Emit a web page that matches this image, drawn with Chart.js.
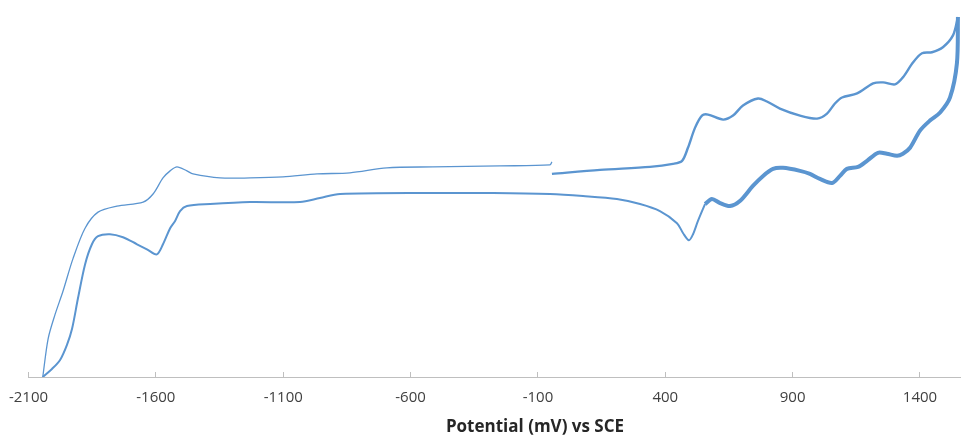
<!DOCTYPE html>
<html>
<head>
<meta charset="utf-8">
<script src="https://cdn.jsdelivr.net/npm/chart.js@4.4.0/dist/chart.umd.min.js"></script>
<style>
    html, body { margin: 0; padding: 0; background: #ffffff; }
    #grafico { display: block; }
</style>
</head>
<body>
<canvas id="grafico" width="961" height="438"></canvas>
<script>
// potencial (mV vs SCE) y corriente (unidades relativas) leidos del voltamograma
// barrido anodico, rama superior derecha (-45 mV -> 1549 mV)
const potencialAnodico = [-45, 144, 340, 430, 466, 489, 517, 544, 568, 627, 666, 705, 764, 799, 850, 929, 996, 1035, 1066, 1094, 1153, 1216, 1255, 1302, 1333, 1373, 1408, 1447, 1490, 1530, 1549];
const corrienteAnodica = [202, 206, 209, 212, 215, 228, 248, 260, 261, 256, 260, 270, 277, 274, 267, 260, 257, 262, 272, 278, 282, 292, 293, 291, 298, 313, 322, 323, 328, 340, 358];

// regreso catodico, rama inferior derecha (1549 mV -> 556 mV)
const potencialRegreso = [1549, 1545, 1518, 1479, 1439, 1400, 1361, 1333, 1310, 1270, 1235, 1192, 1157, 1113, 1086, 1055, 1007, 968, 929, 862, 823, 784, 744, 693, 654, 615, 583, 556];
const corrienteRegreso = [358, 312, 278, 263, 255, 245, 228, 222, 220, 222, 223, 215, 209, 207, 200, 193, 197, 202, 205, 208, 207, 200, 190, 175, 170, 173, 177, 172];

// rama inferior izquierda (556 mV -> -2044 mV)
const potencialCatodico = [556, 528, 509, 493, 470, 446, 379, 301, 210, 77, -53, -276, -512, -877, -956, -1034, -1230, -1387, -1478, -1505, -1525, -1544, -1572, -1596, -1635, -1674, -1729, -1780, -1827, -1851, -1878, -1906, -1929, -1949, -1976, -2008, -2044];
const corrienteCatodica = [172, 155, 142, 136, 143, 153, 165, 172, 177, 180, 182, 183, 183, 182, 178, 174, 174, 172, 170, 165, 155, 148, 132, 122, 127, 132, 139, 142, 140, 132, 112, 78, 48, 32, 17, 8, 0];

// rama superior izquierda (-2044 mV -> -45 mV)
const potencialFinal = [-2044, -2023, -1996, -1965, -1925, -1878, -1827, -1753, -1650, -1611, -1572, -1544, -1517, -1478, -1454, -1348, -1230, -1101, -967, -838, -693, -512, -249, -53, -45];
const corrienteFinal = [0, 38, 62, 85, 118, 148, 164, 170, 174, 182, 198, 205, 209, 205, 202, 198, 198, 199, 202, 203, 208, 209, 210, 211, 214];

const marcasX = [-2100, -1600, -1100, -600, -100, 400, 900, 1400];

const tituloX = "Potential (mV) vs SCE";

const azul = "#5b95d0";

const armarPuntos = (xs, ys) => xs.map((x, i) => ({ x: x, y: ys[i] }));

const crearSerie = (xs, ys, grosor) => ({
    data: armarPuntos(xs, ys),
    showLine: true,
    borderColor: azul,
    backgroundColor: azul,
    borderWidth: grosor,
    pointRadius: 0,
    tension: 0.3,
});

// el titulo del eje no va centrado en el area del grafico (la figura original esta recortada)
const tituloEje = {
    id: "tituloEje",
    afterDraw: (chart) => {
        const ctx = chart.ctx;
        ctx.save();
        ctx.font = "bold 17px 'Open Sans', 'DejaVu Sans', sans-serif";
        ctx.fillStyle = "#262626";
        ctx.textAlign = "center";
        ctx.textBaseline = "middle";
        ctx.fillText(tituloX, 535, 427);
        ctx.restore();
    },
};

Chart.defaults.font.family = "'Open Sans', 'DejaVu Sans', sans-serif";

new Chart(document.getElementById("grafico").getContext("2d"), {
    type: "scatter",
    data: {
        datasets: [
            crearSerie(potencialFinal, corrienteFinal, 1.3),
            crearSerie(potencialCatodico, corrienteCatodica, 2),
            crearSerie(potencialAnodico, corrienteAnodica, 2.4),
            crearSerie(potencialRegreso, corrienteRegreso, 4),
        ],
    },
    options: {
        responsive: false,
        maintainAspectRatio: false,
        animation: false,
        layout: {
            padding: { left: 28.5, right: 0, top: 10, bottom: 14 },
        },
        plugins: {
            legend: { display: false },
            tooltip: { enabled: false },
        },
        scales: {
            x: {
                type: "linear",
                min: -2100,
                max: 1561,
                afterBuildTicks: (escala) => {
                    escala.ticks = marcasX.map((v) => ({ value: v }));
                },
                // que las etiquetas no empujen el area del grafico
                afterFit: (escala) => {
                    escala.paddingLeft = 0;
                    escala.paddingRight = 0;
                },
                grid: {
                    display: true,
                    drawOnChartArea: false,
                    drawTicks: true,
                    tickLength: -5,
                    color: "#bfbfbf",
                },
                border: { display: true, color: "#bfbfbf", width: 1 },
                ticks: {
                    color: "#404040",
                    font: { size: 15 },
                    padding: 17,
                    maxRotation: 0,
                    autoSkip: false,
                    callback: (valor) => String(valor),
                },
            },
            y: {
                display: false,
                min: 0,
                max: 365,
            },
        },
    },
    plugins: [tituloEje],
});
</script>
</body>
</html>
